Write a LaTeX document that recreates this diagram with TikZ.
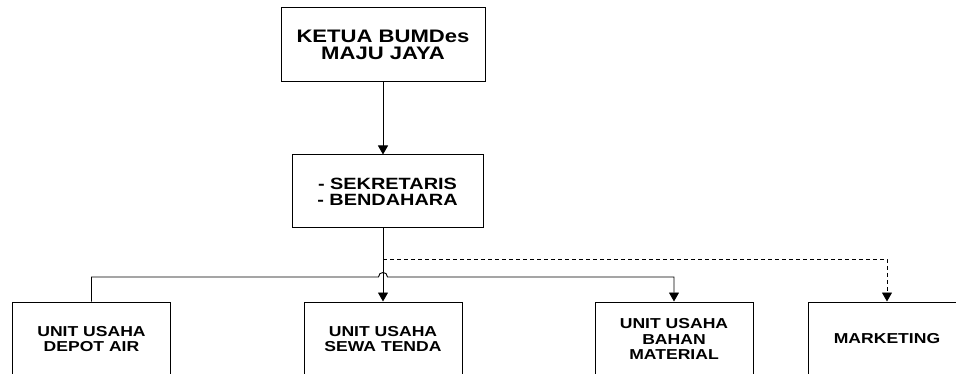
\documentclass[tikz,border=0pt]{standalone}
\usepackage{fontspec}
\setmainfont{Liberation Sans}[FakeStretch=1.22]
\usetikzlibrary{arrows.meta}
\begin{document}
\begin{tikzpicture}[x=1pt,y=-1pt,
  box/.style={draw,line width=1pt,inner sep=0pt,align=center,font=\bfseries},
  topbox/.style={box,minimum width=204pt,minimum height=74pt,font=\fontsize{18.1}{17}\selectfont\bfseries},
  midbox/.style={box,minimum width=191pt,minimum height=73pt,font=\fontsize{16.3}{16.3}\selectfont\bfseries},
  unitbox/.style={box,minimum width=158pt,minimum height=74pt,font=\fontsize{14.4}{15.4}\selectfont\bfseries},
  conn/.style={line width=0.9pt},
  arr/.style={conn,-{Triangle[length=9pt,width=10pt]}}]
\useasboundingbox (0,0) rectangle (956,374);
\clip (0,0) rectangle (956,374);
\fill[white] (0,0) rectangle (956,374);
\node[topbox] (ketua) at (383,45) {KETUA BUMDes\\MAJU JAYA};
\node[midbox] (sek) at (387.5,191.5) {- SEKRETARIS\\- BENDAHARA};
\node[unitbox] (u1) at (91.5,339) {UNIT USAHA\\DEPOT AIR};
\node[unitbox] (u2) at (383,339) {UNIT USAHA\\SEWA TENDA};
\node[unitbox] (u3) at (674,339) {UNIT USAHA\\BAHAN\\MATERIAL};
\node[unitbox] (u4) at (887,339) {MARKETING};
\coordinate (s) at (ketua.south |- sek.south);
\coordinate (d) at (ketua.south |- 0,259);
\coordinate (hl) at (378.5,277);
\coordinate (hr) at (387.5,277);
\draw[arr] (ketua.south) -- (ketua.south |- sek.north);
\draw[arr] (s) -- (s |- u2.north);
\draw[arr] (u1.north) -- (u1.north |- hl) -- (hl) .. controls (378.5,271) and (387.5,271) .. (hr) -- (u3.north |- hr) -- (u3.north);
\draw[arr,dash pattern=on 4pt off 3pt] (d) -- (u4.north |- d) -- (u4.north);
\end{tikzpicture}
\end{document}
